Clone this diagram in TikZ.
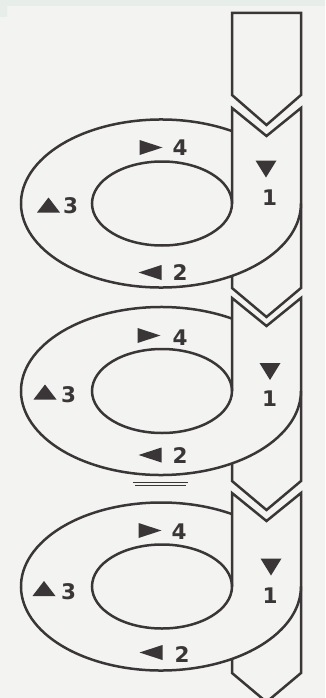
\documentclass[tikz,border=0pt]{standalone}
\usepackage{fontspec}
\setmainfont{DejaVu Sans}
\definecolor{ink}{HTML}{3A3637}
\definecolor{paper}{HTML}{F3F3F1}
\definecolor{band}{HTML}{E7EDE9}
\tikzset{
  strip/.style={draw=ink, line width=2.5pt, line join=miter},
  ring/.style={draw=ink, line width=2.5pt},
  lab/.style={text=ink, inner sep=0pt, font=\fontsize{21.5}{24}\selectfont\bfseries},
  tri/.style={fill=ink}
}
\newcommand\triRight[2]{\fill[tri] (#1,#2) ++(-11.5,-7.5) -- ++(23,7.5) -- ++(-23,7.5) -- cycle;}
\newcommand\triLeft[2]{\fill[tri] (#1,#2) ++(11.5,-7.5) -- ++(-23,7.5) -- ++(23,7.5) -- cycle;}
\newcommand\triUp[2]{\fill[tri] (#1,#2) ++(-11.5,7.5) -- ++(11.5,-15) -- ++(11.5,15) -- cycle;}
\newcommand\triDown[2]{\fill[tri] (#1,#2) ++(-10.5,-8.5) -- ++(21,0) -- ++(-10.5,17) -- cycle;}
% loop: #1 cy, #2 notch top, #3 bottom side
\newcommand\loopseg[3]{%
  \draw[ring] (161,#1) ++(300.5:140 and 84) arc[start angle=300.5, end angle=0, x radius=140, y radius=84];
  \draw[ring] (162,#1) ellipse[x radius=70, y radius=42];
  \draw[strip] (232,#1) -- (232,#2) -- (266.5,#2+28) -- (301,#2) -- (301,#3) -- (266.5,#3+29) -- (232,#3) -- (232,#1+72.4);
}
\begin{document}
\begin{tikzpicture}[x=1pt,y=-1pt]
\useasboundingbox (0,0) rectangle (325,698);
\fill[paper] (0,0) rectangle (325,698);
\fill[band] (0,0) rectangle (325,6) (0,0) rectangle (7,17);
\begin{scope}
\clip (0,0) rectangle (325,698);
% top arrow
\draw[strip] (232,95) -- (232,13) -- (301,13) -- (301,95) -- (266.5,125) -- cycle;
\loopseg{203.5}{108}{288}
\loopseg{391}{298}{481}
\loopseg{586.5}{493}{673}
\end{scope}
% stray double line
\draw[ink, line width=1.2pt] (133,482.3) -- (188,482.3);
\draw[ink, line width=1.2pt] (135,485.3) -- (186,485.3);
% loop 1 labels
\triRight{151}{147.5}\node[lab] (f1) at (180,148) {4};
\triUp{48.5}{205}\node[lab] (t1) at (70.5,205.5) {3};
\triDown{266}{169}\node[lab] (o1) at (269.5,197.5) {1};
\triLeft{150}{272.5}\node[lab] (w1) at (180,273) {2};
% loop 2 labels
\triRight{149}{335.5}\node[lab] (f2) at (180,337.5) {4};
\triUp{45}{392}\node[lab] (t2) at (68.5,395) {3};
\triDown{270}{371.5}\node[lab] (o2) at (269.5,398.5) {1};
\triLeft{150}{455}\node[lab] (w2) at (180,456) {2};
% loop 3 labels
\triRight{150}{530.5}\node[lab] (f3) at (179,532) {4};
\triUp{44}{588.5}\node[lab] (t3) at (68.5,591.5) {3};
\triDown{271}{567}\node[lab] (o3) at (270,595.5) {1};
\triLeft{151}{652.5}\node[lab] (w3) at (182,654.5) {2};
\end{tikzpicture}
\end{document}
